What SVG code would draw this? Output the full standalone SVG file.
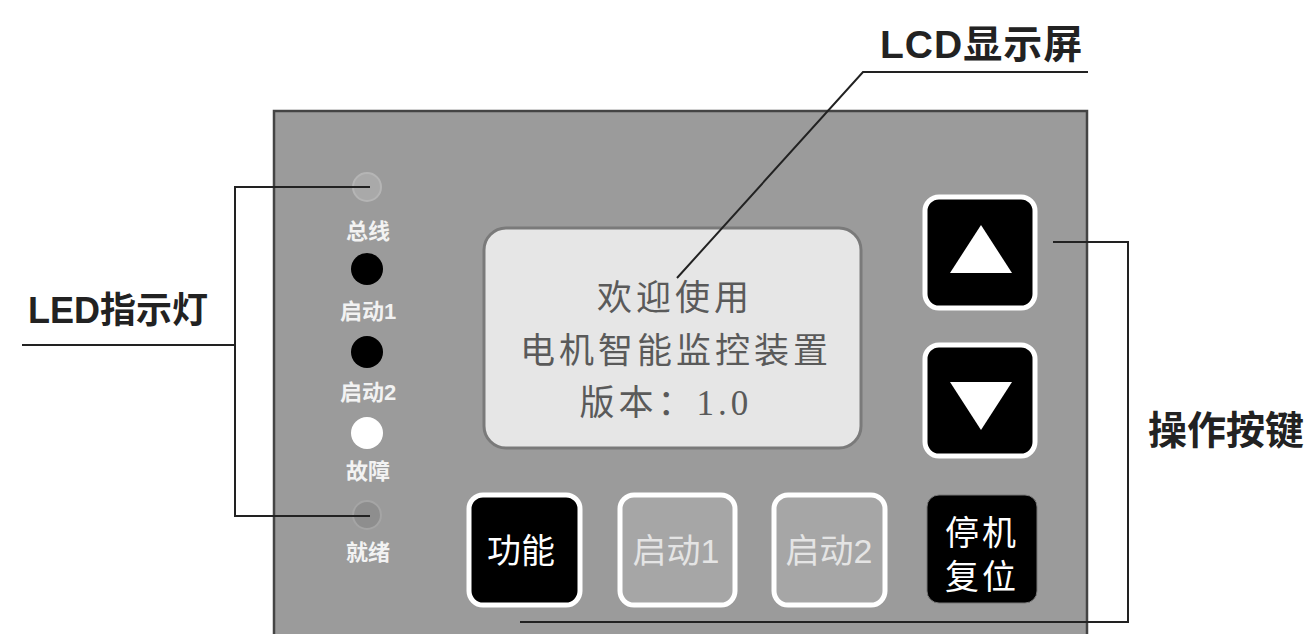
<svg xmlns="http://www.w3.org/2000/svg" width="1312" height="634" viewBox="0 0 1312 634">
<style>
.lbl{font-family:"Liberation Sans","Noto Sans CJK SC",sans-serif;font-weight:bold;fill:#222}
.led{font-family:"Liberation Sans","Noto Sans CJK SC",sans-serif;font-weight:bold;fill:#f2f2f2;font-size:22px;text-anchor:middle}
.btn{font-family:"Liberation Sans","Noto Sans CJK SC",sans-serif;font-size:34px;text-anchor:middle}
.lcd{font-family:"Liberation Serif","Noto Sans CJK SC",serif;font-size:35px;fill:#5a5a5a;text-anchor:middle;letter-spacing:4px}
.ln{fill:none;stroke:#222;stroke-width:2}
.key{fill:#000;stroke:#fff;stroke-width:5}
</style>
<rect width="1312" height="634" fill="#fff"/>
<g id="panel">
<rect x="274" y="111" width="813" height="540" fill="#9b9b9b" stroke="#444" stroke-width="2.5"/>
</g>
<g id="leds">
<circle cx="367" cy="187" r="14" fill="#a9a9a9" stroke="#b5b5b5" stroke-width="2"/>
<text class="led" x="368" y="239">总线</text>
<circle cx="367" cy="269" r="16" fill="#000"/>
<text class="led" x="368" y="319">启动1</text>
<circle cx="367" cy="352" r="16" fill="#000"/>
<text class="led" x="368" y="400">启动2</text>
<circle cx="367" cy="433" r="16" fill="#fff"/>
<text class="led" x="368" y="479">故障</text>
<circle cx="367" cy="515" r="14" fill="#8e8e8e" stroke="#a5a5a5" stroke-width="2"/>
<text class="led" x="368" y="560">就绪</text>
</g>
<g id="lcd">
<rect x="484" y="228" width="377" height="220" rx="22" fill="#e6e6e6" stroke="#7a7a7a" stroke-width="3"/>
<text class="lcd" x="675" y="310">欢迎使用</text>
<text class="lcd" x="676" y="363">电机智能监控装置</text>
<text class="lcd" x="666" y="415">版本：1.0</text>
</g>
<g id="key-up">
<rect class="key" x="925" y="197" width="110" height="111" rx="14"/>
<polygon points="950,273 1012,273 981,225" fill="#fff"/>
</g>
<g id="key-down">
<rect class="key" x="925" y="345" width="110" height="111" rx="14"/>
<polygon points="950,382 1012,382 981,430" fill="#fff"/>
</g>
<g id="key-func">
<rect class="key" x="469" y="495" width="111" height="110" rx="14"/>
<text class="btn" x="521" y="563" fill="#fff">功能</text>
</g>
<g id="key-start1">
<rect x="620" y="495" width="115" height="110" rx="14" fill="#a6a6a6" stroke="#fff" stroke-width="5"/>
<text class="btn" x="676" y="563" fill="#e4e4e4">启动1</text>
</g>
<g id="key-start2">
<rect x="774" y="495" width="111" height="110" rx="14" fill="#a6a6a6" stroke="#fff" stroke-width="5"/>
<text class="btn" x="829" y="563" fill="#e4e4e4">启动2</text>
</g>
<g id="key-stop">
<rect x="927" y="495" width="110" height="108" rx="12" fill="#000" stroke="#777" stroke-width="1"/>
<text class="btn" x="982" y="545" fill="#fff" font-size="38" letter-spacing="3">停机</text>
<text class="btn" x="982" y="589" fill="#fff" font-size="38" letter-spacing="3">复位</text>
</g>
<g id="labels">
<text class="lbl" x="28" y="323" font-size="36">LED指示灯</text>
<text class="lbl" x="880" y="58" font-size="39" letter-spacing="1">LCD显示屏</text>
<text class="lbl" x="1148" y="444" font-size="39">操作按键</text>
</g>
<g id="connectors">
<polyline class="ln" points="370,187 235,187 235,516 370,516"/>
<line class="ln" x1="22" y1="345" x2="235" y2="345"/>
<polyline class="ln" points="677,278 863,72 1088,72"/>
<polyline class="ln" points="1053,242 1128,242 1128,622 520,622"/>
</g>
</svg>
